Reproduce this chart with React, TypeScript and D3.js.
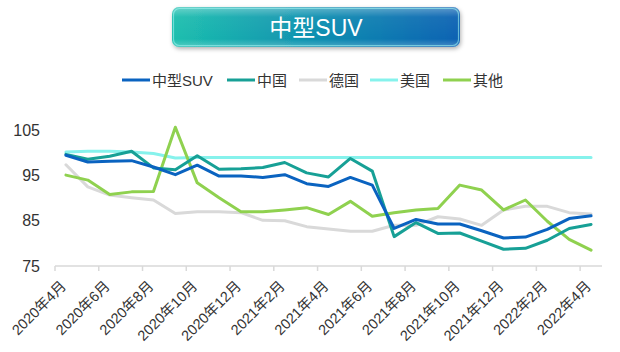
import React from "react";
import * as d3 from "d3";

const months = [
  "2020年4月","2020年5月","2020年6月","2020年7月","2020年8月","2020年9月","2020年10月","2020年11月","2020年12月",
  "2021年1月","2021年2月","2021年3月","2021年4月","2021年5月","2021年6月","2021年7月","2021年8月","2021年9月",
  "2021年10月","2021年11月","2021年12月","2022年1月","2022年2月","2022年3月","2022年4月",
];
const midSUV = [99.5, 98.0, 98.2, 98.3, 96.9, 95.2, 97.3, 94.9, 94.9, 94.6, 95.2, 93.2, 92.6, 94.6, 92.9, 83.3, 85.3, 84.3, 84.3, 82.8, 81.2, 81.4, 83.1, 85.5, 86.1];
const china = [99.7, 98.6, 99.3, 100.4, 96.7, 96.3, 99.4, 96.4, 96.5, 96.8, 97.9, 95.6, 94.7, 98.8, 96.0, 81.5, 84.6, 82.2, 82.3, 80.5, 78.7, 78.9, 80.7, 83.3, 84.2];
const germany = [97.4, 92.5, 90.7, 90.1, 89.6, 86.6, 87.0, 87.0, 86.8, 85.1, 85.0, 83.7, 83.2, 82.7, 82.7, 84.0, 84.0, 85.9, 85.4, 84.0, 87.4, 88.2, 88.2, 86.8, 86.5];
const usa = [100.2, 100.4, 100.4, 100.2, 99.9, 98.9, 99.0, 99.0, 99.0, 99.0, 99.0, 99.0, 99.0, 99.0, 99.0, 99.0, 99.0, 99.0, 99.0, 99.0, 99.0, 99.0, 99.0, 99.0, 99.0];
const other = [95.1, 94.0, 90.8, 91.4, 91.5, 105.7, 93.4, 90.1, 87.0, 87.0, 87.4, 87.9, 86.4, 89.3, 86.0, 86.8, 87.4, 87.7, 92.9, 91.8, 87.4, 89.6, 84.9, 80.9, 78.5];
const yTicks = [75, 85, 95, 105];
const seriesNames = ["中型SUV", "中国", "德国", "美国", "其他"];
const seriesColors = ["#0a63c0", "#17a096", "#d9d9d9", "#86f2ec", "#8fd14f"];
const title = "中型SUV";

const FONT = "'Liberation Sans', Arial, 'Noto Sans CJK SC', sans-serif";

export default function App() {
  const W = 620, H = 352;
  const x = d3.scaleBand<string>().domain(months).range([55, 602]).padding(0);
  const cx = (m: string) => (x(m) as number) + x.bandwidth() / 2;
  const y = d3.scaleLinear().domain([75, 105]).range([266, 130.4]);
  const allSeries = [midSUV, china, germany, usa, other];
  const order = [2, 3, 4, 1, 0];
  const line = d3.line<number>().x((_, i) => cx(months[i])).y((v) => y(v));
  const legendX = [122, 227, 299, 370, 443];

  return (
    <svg width={W} height={H} style={{ position: "absolute", left: 0, top: 0, background: "#fff" }} fontFamily={FONT}>
      <defs>
        <linearGradient id="tg" x1="0" y1="0" x2="1" y2="0">
          <stop offset="0" stopColor="#1cbfae" />
          <stop offset="0.5" stopColor="#0f8fb0" />
          <stop offset="1" stopColor="#0a62b3" />
        </linearGradient>
        <linearGradient id="tg2" x1="0" y1="0" x2="0" y2="1">
          <stop offset="0" stopColor="#ffffff" stopOpacity="0.35" />
          <stop offset="0.25" stopColor="#ffffff" stopOpacity="0.05" />
          <stop offset="0.8" stopColor="#ffffff" stopOpacity="0" />
          <stop offset="1" stopColor="#ffffff" stopOpacity="0.25" />
        </linearGradient>
        <filter id="sh" x="-10%" y="-30%" width="120%" height="170%">
          <feDropShadow dx="1" dy="2" stdDeviation="2" floodColor="#000" floodOpacity="0.3" />
        </filter>
      </defs>
      <g>
        <rect x={172} y={7} width={288} height={40} rx={7} fill="url(#tg)" filter="url(#sh)" />
        <rect x={172} y={7} width={288} height={40} rx={7} fill="url(#tg2)" />
        <rect x={173.5} y={8.5} width={285} height={37} rx={6} fill="none" stroke="#9cf3f0" strokeOpacity={0.6} strokeWidth={1.2} />
        <text x={316} y={36} textAnchor="middle" fill="#fff" fontSize={23}>{title}</text>
      </g>
      <g>
        {seriesNames.map((n, i) => (
          <g key={n}>
            <line x1={legendX[i]} x2={legendX[i] + 28} y1={80} y2={80} stroke={seriesColors[i]} strokeWidth={3} />
            <text x={legendX[i] + 30} y={85.5} fontSize={15} fill="#333">{n}</text>
          </g>
        ))}
      </g>
      {yTicks.map((t) => (
        <text key={t} x={40} y={y(t) + 5.5} textAnchor="end" fontSize={16} fill="#333">{t}</text>
      ))}
      <line x1={55} x2={602} y1={266} y2={266} stroke="#d9d9d9" strokeWidth={1.5} />
      {months.map((m, i) =>
        i % 2 === 0 ? (
          <g key={m}>
            <line x1={x(m) as number} x2={x(m) as number} y1={266} y2={271} stroke="#d9d9d9" strokeWidth={1.5} />
            <text
              transform={`translate(${cx(m) + 1},${287}) rotate(-45)`}
              textAnchor="end"
              fontSize={14.5}
              fill="#333"
            >
              {m}
            </text>
          </g>
        ) : null
      )}
      {order.map((k) => (
        <path
          key={k}
          d={line(allSeries[k]) as string}
          fill="none"
          stroke={seriesColors[k]}
          strokeWidth={3}
          strokeLinejoin="round"
          strokeLinecap="round"
        />
      ))}
    </svg>
  );
}
